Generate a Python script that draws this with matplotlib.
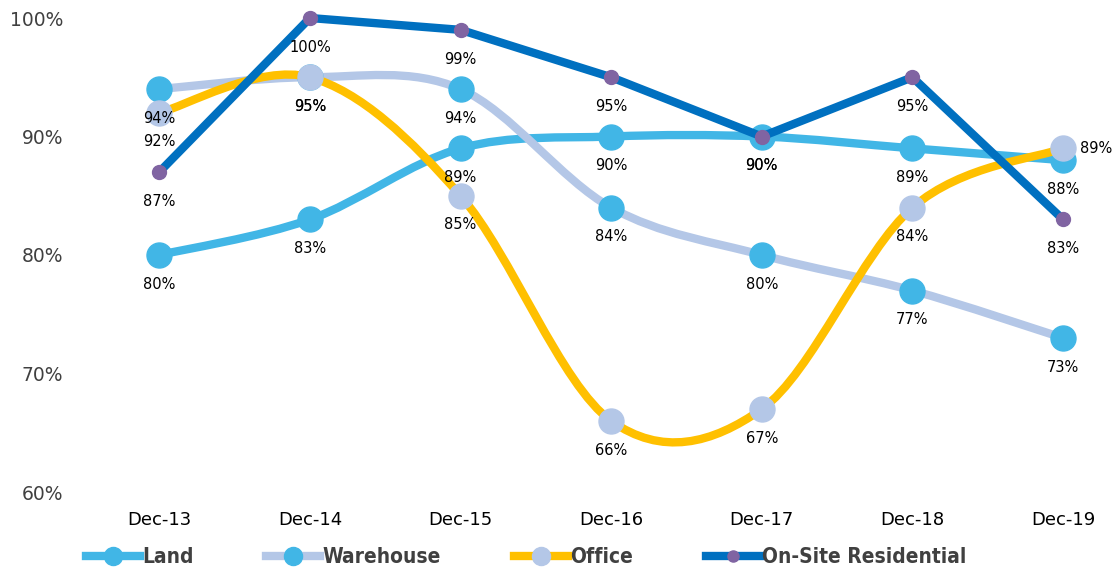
import numpy as np
import matplotlib
matplotlib.use("Agg")
import matplotlib.pyplot as plt
from matplotlib.path import Path
from matplotlib.patches import PathPatch
from matplotlib.lines import Line2D

categories = ["Dec-13", "Dec-14", "Dec-15", "Dec-16", "Dec-17", "Dec-18", "Dec-19"]
land = [0.80, 0.83, 0.89, 0.90, 0.90, 0.89, 0.88]
warehouse = [0.94, 0.95, 0.94, 0.84, 0.80, 0.77, 0.73]
office = [0.92, 0.95, 0.85, 0.66, 0.67, 0.84, 0.89]
residential = [0.87, 1.00, 0.99, 0.95, 0.90, 0.95, 0.83]
y_ticks = [0.6, 0.7, 0.8, 0.9, 1.0]

C_LAND = "#41B6E6"
C_WARE = "#B4C7E7"
C_OFFICE = "#FFC000"
C_RES = "#0070C0"
C_PURPLE = "#8064A2"
TXT = "#404040"


def smooth_path(xs, ys):
    # excel style smoothed line (catmull-rom as bezier)
    pts = np.column_stack([xs, ys]).astype(float)
    n = len(pts)
    verts = [pts[0]]
    codes = [Path.MOVETO]
    for i in range(n - 1):
        p0 = pts[max(i - 1, 0)]
        p1 = pts[i]
        p2 = pts[i + 1]
        p3 = pts[min(i + 2, n - 1)]
        verts += [p1 + (p2 - p0) / 6, p2 - (p3 - p1) / 6, p2]
        codes += [Path.CURVE4] * 3
    return Path(verts, codes)


fig = plt.figure(figsize=(11.14, 5.72), dpi=100)
ax = fig.add_axes([84 / 1114, 1 - 492 / 572, 1 - 84 / 1114, (492 - 18) / 572])
x = np.arange(len(categories))

series = [
    (land, C_LAND, C_LAND, 18, True, 2),
    (warehouse, C_WARE, C_LAND, 18, True, 3),
    (office, C_OFFICE, C_WARE, 18, True, 4),
    (residential, C_RES, C_PURPLE, 10, False, 5),
]

for vals, lc, mc, ms, smooth, z in series:
    if smooth:
        ax.add_patch(PathPatch(smooth_path(x, vals), fill=False, edgecolor=lc,
                               lw=6, capstyle="round", zorder=z))
    else:
        ax.plot(x, vals, color=lc, lw=6, solid_capstyle="round", zorder=z)
    ax.plot(x, vals, ls="none", marker="o", ms=ms, markerfacecolor=mc,
            markeredgecolor=mc, zorder=z + 0.5)

# data labels
for vals, *_ in series:
    for i, v in enumerate(vals):
        if vals is office and i == len(vals) - 1:
            ax.annotate(f"{v:.0%}", (i, v), xytext=(12, 0), textcoords="offset points",
                        ha="left", va="center", fontsize=10.5, color="#000000", zorder=10)
        else:
            ax.annotate(f"{v:.0%}", (i, v), xytext=(0, -21), textcoords="offset points",
                        ha="center", va="center", fontsize=10.5, color="#000000", zorder=10)

ax.set_xlim(-0.5, 6 + (1114 - 1063) / 150.7)
ax.set_ylim(0.6, 1.0)
ax.set_xticks(x)
ax.set_xticklabels(categories, fontsize=13, color="#000000")
ax.set_yticks(y_ticks)
ax.set_yticklabels([f"{t:.0%}" for t in y_ticks], fontsize=13.5, color=TXT)
ax.tick_params(axis="y", length=0, pad=15)
ax.tick_params(axis="x", length=0, pad=14)
for s in ["top", "bottom", "left", "right"]:
    ax.spines[s].set_visible(False)
for child in ax.get_children():
    child.set_clip_on(False)

handles = [
    Line2D([], [], color=C_LAND, lw=6, marker="o", ms=13, markerfacecolor=C_LAND, markeredgecolor=C_LAND),
    Line2D([], [], color=C_WARE, lw=6, marker="o", ms=13, markerfacecolor=C_LAND, markeredgecolor=C_LAND),
    Line2D([], [], color=C_OFFICE, lw=6, marker="o", ms=13, markerfacecolor=C_WARE, markeredgecolor=C_WARE),
    Line2D([], [], color=C_RES, lw=6, marker="o", ms=8, markerfacecolor=C_PURPLE, markeredgecolor=C_PURPLE),
]
leg = fig.legend(handles, ["Land", "Warehouse", "Office", "On-Site Residential"],
                 ncol=4, loc="center", bbox_to_anchor=(526 / 1114, 1 - 557 / 572),
                 frameon=False, handlelength=2.6, handletextpad=0.1, columnspacing=3.5,
                 prop={"family": "DejaVu Sans", "stretch": "condensed", "weight": "bold", "size": 15})
for t in leg.get_texts():
    t.set_color(TXT)

fig.savefig("out.png", dpi=100)
